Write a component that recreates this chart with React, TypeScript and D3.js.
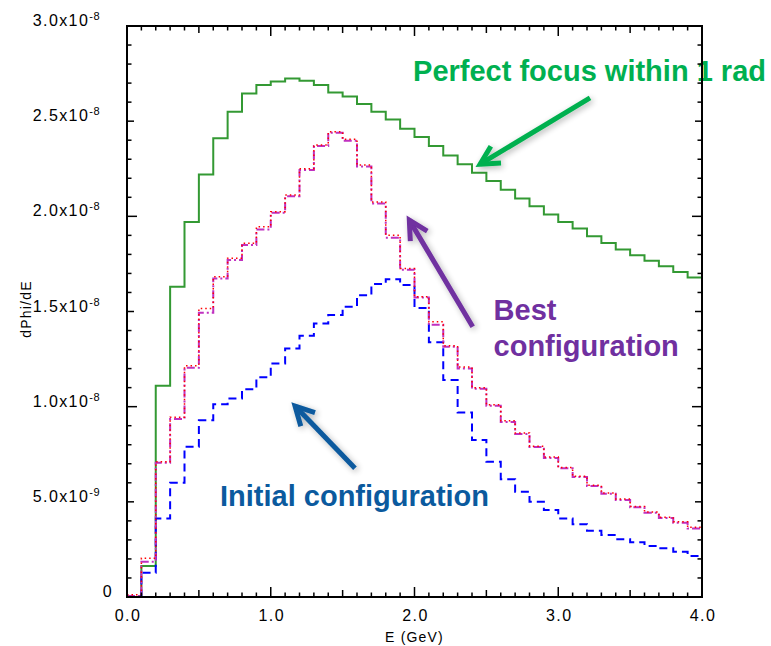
import React from 'react';
import * as d3 from 'd3';

// Lower edges of the 0.1 GeV energy bins (GeV)
const BIN_START = [
  0.0, 0.1, 0.2, 0.3, 0.4, 0.5, 0.6, 0.7, 0.8, 0.9,
  1.0, 1.1, 1.2, 1.3, 1.4, 1.5, 1.6, 1.7, 1.8, 1.9,
  2.0, 2.1, 2.2, 2.3, 2.4, 2.5, 2.6, 2.7, 2.8, 2.9,
  3.0, 3.1, 3.2, 3.3, 3.4, 3.5, 3.6, 3.7, 3.8, 3.9,
];
const BIN_WIDTH = 0.1;
const UNIT = 1e-9;

// dPhi/dE values, in units of 1e-9
const PERFECT_FOCUS = [
  0.0, 1.63, 11.1, 16.3, 19.7, 22.2, 24.1, 25.5, 26.45, 26.9,
  27.08, 27.24, 27.12, 26.9, 26.5, 26.3, 25.9, 25.5, 25.09, 24.6,
  24.17, 23.69, 23.2, 22.74, 22.29, 21.86, 21.4, 20.94, 20.53, 20.1,
  19.7, 19.36, 18.96, 18.6, 18.26, 17.96, 17.66, 17.38, 17.08, 16.79,
];
const BEST_DASHDOT = [
  0.05, 1.85, 7.05, 9.35, 12.04, 14.93, 16.74, 17.7, 18.49, 19.31,
  20.19, 21.06, 22.43, 23.69, 24.39, 23.97, 22.62, 20.68, 18.88, 17.2,
  15.73, 14.3, 13.15, 12.0, 10.94, 10.05, 9.2, 8.56, 7.88, 7.3,
  6.77, 6.3, 5.83, 5.43, 5.1, 4.72, 4.43, 4.15, 3.9, 3.6,
];
const BEST_DOTTED = [
  0.12, 2.03, 7.1, 9.45, 12.15, 15.16, 16.82, 17.8, 18.58, 19.45,
  20.24, 21.12, 22.5, 23.75, 24.45, 24.05, 22.7, 20.75, 19.01, 17.26,
  15.78, 14.46, 13.2, 12.08, 11.0, 10.1, 9.26, 8.62, 7.92, 7.35,
  6.8, 6.34, 5.87, 5.47, 5.15, 4.76, 4.47, 4.19, 3.95, 3.66,
];
const INITIAL = [
  0.05, 1.28, 4.13, 6.0, 7.9, 9.28, 10.13, 10.43, 10.91, 11.54,
  12.27, 13.06, 13.72, 14.37, 14.81, 15.25, 15.86, 16.44, 16.69, 16.39,
  15.18, 13.38, 11.4, 9.7, 8.25, 7.11, 6.18, 5.53, 5.0, 4.57,
  4.13, 3.82, 3.48, 3.26, 3.03, 2.87, 2.68, 2.56, 2.38, 2.15,
];

const Y_TICKS = [0, 5e-9, 1.0e-8, 1.5e-8, 2.0e-8, 2.5e-8, 3.0e-8];
const Y_TICK_MANT = ['0', '5.0x10', '1.0x10', '1.5x10', '2.0x10', '2.5x10', '3.0x10'];
const Y_TICK_EXP = ['', '-9', '-8', '-8', '-8', '-8', '-8'];
const X_TICKS = [0, 1, 2, 3, 4];
const X_TICK_LABELS = ['0.0', '1.0', '2.0', '3.0', '4.0'];

const X_TITLE = 'E (GeV)';
const Y_TITLE = 'dPhi/dE';

// Annotations (data coordinates: GeV, units of 1e-9)
const ANNOTATIONS = [
  { lines: ['Perfect focus within 1 rad'], x: 1.99, y: 27.1, color: '#00B050',
    arrowFrom: [3.221, 26.22], arrowTo: [2.456, 22.74] },
  { lines: ['Best', 'configuration'], x: 2.55, y: 14.55, color: '#7030A0',
    arrowFrom: [2.405, 14.2], arrowTo: [1.964, 19.8] },
  { lines: ['Initial configuration'], x: 0.647, y: 4.8, color: '#0B5A9E',
    arrowFrom: [1.586, 6.76], arrowTo: [1.169, 10.03] },
];

const W = 771;
const H = 646;
const LEFT = 127;
const RIGHT = 702;
const TOP = 26;
const BOTTOM = 597;

export default function App() {
  const x = d3.scaleLinear().domain([0, 4]).range([LEFT, RIGHT]);
  const y = d3.scaleLinear().domain([0, 3.0e-8]).range([BOTTOM, TOP]);

  const stepLine = d3
    .line<[number, number]>()
    .x((d) => x(d[0]))
    .y((d) => y(d[1]))
    .curve(d3.curveStepAfter);

  const pts = (vals: number[]): [number, number][] => {
    const p: [number, number][] = BIN_START.map((b, i) => [b, vals[i] * UNIT]);
    p.push([BIN_START[BIN_START.length - 1] + BIN_WIDTH, vals[vals.length - 1] * UNIT]);
    return p;
  };

  const tickFont = "'Liberation Sans', Arial, sans-serif";

  const yMinor = d3.range(0, 31).map((i) => i * 1e-9);
  const xMinor = d3.range(0, 41).map((i) => i * 0.1);
  const yLen = (i: number) => (i % 10 === 0 ? 10 : i % 5 === 0 ? 7 : 4.5);
  const xLen = (i: number) => (i % 10 === 0 ? 10 : i % 5 === 0 ? 7 : 4.5);

  const arrowHead = (fx: number, fy: number, tx: number, ty: number) => {
    const ang = Math.atan2(fy - ty, fx - tx);
    const L = 21;
    const a = (28 * Math.PI) / 180;
    const w1 = [tx + L * Math.cos(ang - a), ty + L * Math.sin(ang - a)];
    const w2 = [tx + L * Math.cos(ang + a), ty + L * Math.sin(ang + a)];
    return `M${w1[0]},${w1[1]}L${tx},${ty}L${w2[0]},${w2[1]}`;
  };

  return (
    <svg
      width={W}
      height={H}
      style={{ position: 'absolute', left: 0, top: 0, background: '#fff' }}
    >
      <defs>
        <clipPath id="plotClip">
          <rect x={LEFT} y={TOP} width={RIGHT - LEFT} height={BOTTOM - TOP} />
        </clipPath>
        <filter id="shadow" x="-30%" y="-30%" width="160%" height="160%">
          <feGaussianBlur in="SourceAlpha" stdDeviation="3" />
          <feOffset dx="2" dy="2" result="b" />
          <feComponentTransfer>
            <feFuncA type="linear" slope="0.3" />
          </feComponentTransfer>
          <feMerge>
            <feMergeNode />
            <feMergeNode in="SourceGraphic" />
          </feMerge>
        </filter>
      </defs>

      <g clipPath="url(#plotClip)" fill="none">
        <path d={stepLine(pts(PERFECT_FOCUS)) || ''} stroke="#339933" strokeWidth={2} />
        <path d={stepLine(pts(INITIAL)) || ''} stroke="#0000FF" strokeWidth={2} strokeDasharray="8,5" />
        <path d={stepLine(pts(BEST_DASHDOT)) || ''} stroke="#C030C0" strokeWidth={2} strokeDasharray="8,3,2,3" />
        <path d={stepLine(pts(BEST_DOTTED)) || ''} stroke="#FF0000" strokeWidth={1.5} strokeDasharray="1.5,3" />
      </g>

      {ANNOTATIONS.map((a, k) => {
        const fx = x(a.arrowFrom[0]);
        const fy = y(a.arrowFrom[1] * UNIT);
        const tx = x(a.arrowTo[0]);
        const ty = y(a.arrowTo[1] * UNIT);
        return (
          <g key={k}>
            <g filter="url(#shadow)" stroke={a.color} strokeWidth={5} fill="none">
              <path d={`M${fx},${fy}L${tx},${ty}`} />
              <path d={arrowHead(fx, fy, tx, ty)} strokeLinejoin="miter" />
            </g>
            <text
              x={x(a.x)}
              y={y(a.y * UNIT)}
              fill={a.color}
              fontFamily="'Liberation Sans', Arial, sans-serif"
              fontWeight="bold"
              fontSize={29}
            >
              {a.lines.map((l, i) => (
                <tspan key={i} x={x(a.x)} dy={i === 0 ? 0 : 36}>
                  {l}
                </tspan>
              ))}
            </text>
          </g>
        );
      })}

      <rect
        x={LEFT}
        y={TOP}
        width={RIGHT - LEFT}
        height={BOTTOM - TOP}
        fill="none"
        stroke="#000"
        strokeWidth={2}
      />
      <g stroke="#000" strokeWidth={1.5}>
        {yMinor.map((v, i) => (
          <g key={'y' + i}>
            <line x1={LEFT} x2={LEFT + yLen(i)} y1={y(v)} y2={y(v)} />
            <line x1={RIGHT} x2={RIGHT - yLen(i)} y1={y(v)} y2={y(v)} />
          </g>
        ))}
        {xMinor.map((v, i) => (
          <g key={'x' + i}>
            <line x1={x(v)} x2={x(v)} y1={BOTTOM} y2={BOTTOM - xLen(i)} />
            <line x1={x(v)} x2={x(v)} y1={TOP} y2={TOP + xLen(i)} />
          </g>
        ))}
      </g>

      {Y_TICKS.map((v, i) => (
        <text
          key={'yl' + i}
          x={Y_TICK_EXP[i] ? 100 : 113}
          y={y(v)}
          textAnchor="end"
          fontFamily={tickFont}
          fontSize={16}
          letterSpacing={1.4}
          fill="#000"
        >
          {Y_TICK_MANT[i]}
          {Y_TICK_EXP[i] ? (
            <tspan fontSize={11} dy={-6} letterSpacing={0.5}>
              {Y_TICK_EXP[i]}
            </tspan>
          ) : null}
        </text>
      ))}

      {X_TICKS.map((v, i) => (
        <text
          key={'xl' + i}
          x={x(v) + 1}
          y={621}
          textAnchor="middle"
          fontFamily={tickFont}
          fontSize={16}
          letterSpacing={1.5}
          fill="#000"
        >
          {X_TICK_LABELS[i]}
        </text>
      ))}

      <text
        x={(LEFT + RIGHT) / 2}
        y={642}
        textAnchor="middle"
        fontFamily={tickFont}
        fontSize={14}
        letterSpacing={1.2}
        fill="#000"
      >
        {X_TITLE}
      </text>
      <text
        transform={`translate(31, ${309}) rotate(-90)`}
        textAnchor="middle"
        fontFamily={tickFont}
        fontSize={14}
        letterSpacing={1.2}
        fill="#000"
      >
        {Y_TITLE}
      </text>
    </svg>
  );
}
